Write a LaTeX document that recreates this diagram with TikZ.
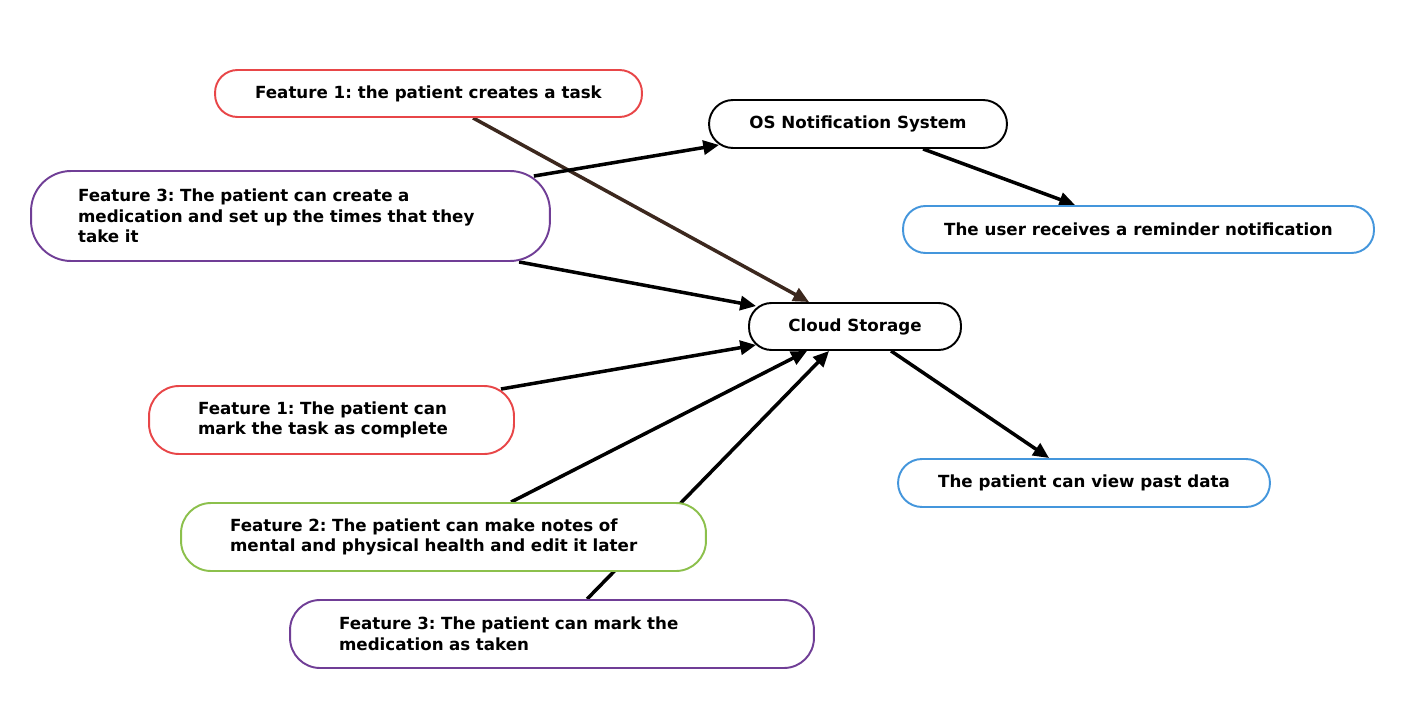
\documentclass[tikz,border=0pt]{standalone}
\usepackage{fontspec}
\setmainfont{DejaVu Sans}
\frenchspacing
\usetikzlibrary{arrows.meta,calc,backgrounds}

\definecolor{boxred}{RGB}{232,70,72}
\definecolor{boxpurple}{RGB}{112,62,150}
\definecolor{boxgreen}{RGB}{140,192,76}
\definecolor{boxblue}{RGB}{68,150,220}
\definecolor{linkbrown}{RGB}{60,40,30}

\begin{document}
\begin{tikzpicture}[x=0.02cm,y=-0.02cm,
    box/.style={draw,line width=1.1pt,fill=white,minimum height=0.94cm,rounded corners=0.45cm,
      font=\bfseries\fontsize{9.5}{11.7}\selectfont,align=center,inner sep=0pt},
    tallbox/.style={box,minimum height=1.36cm,rounded corners=0.6cm,align=left,inner xsep=0.98cm},
    link/.style={line width=2pt,-{Triangle[length=9pt,width=8pt]}}]
  \useasboundingbox (0,0) rectangle (1406,709);
      \node[box,draw=boxred,minimum width=8.54cm] (task) at (428.5,93.5) {Feature 1: the patient creates a task};
      \node[box,minimum width=5.96cm,minimum height=0.96cm,rounded corners=0.48cm] (os) at (858,124) {OS Notification System};
      \node[tallbox,draw=boxpurple,minimum height=1.8cm,rounded corners=0.8cm,inner xsep=0.94cm,text width=8.5cm] (create) at (290.5,216)
        {Feature 3: The patient can create a\\medication and set up the times that they\\take it};
      \node[box,draw=boxblue,minimum width=9.42cm] (user) at (1138.5,229.5) {The user receives a reminder notification};
      \node[box,minimum width=4.24cm] (cloud) at (855,326.5) {Cloud Storage};
      \node[tallbox,draw=boxred,text width=5.34cm] (complete) at (331.5,420)
        {Feature 1: The patient can\\mark the task as complete};
      \node[box,draw=boxblue,minimum width=7.44cm,minimum height=0.96cm,rounded corners=0.48cm] (past) at (1084,483) {The patient can view past data};
      \node[tallbox,draw=boxgreen,text width=8.54cm] (f2) at (443.5,537)
        {Feature 2: The patient can make notes of\\mental and physical health and edit it later};
      \node[tallbox,draw=boxpurple,text width=8.52cm] (taken) at (552,634)
        {Feature 3: The patient can mark the\\medication as taken};
    \begin{scope}[on background layer]
      \draw[link,draw=linkbrown,fill=linkbrown] ($(task.south west)+(259,0)$) -- ($(cloud.north west)+(61,0)$);
      \draw[link] ($(create.north east)+(-17,6)$) -- ($(os.south west)+(11,-4)$);
      \draw[link] ($(create.south west)+(489,0)$) -- ($(cloud.north west)+(8,4)$);
      \draw[link] ($(complete.north east)+(-14,4)$) -- ($(cloud.south west)+(8,-6)$);
      \draw[link] ($(f2.north west)+(331,0)$) -- ($(cloud.south west)+(59,0)$);
      \draw[link] ($(taken.north west)+(298,0)$) -- ($(cloud.south west)+(81,0)$);
      \draw[link] ($(os.south west)+(215,0)$) -- ($(user.north west)+(173,0)$);
      \draw[link] ($(cloud.south west)+(143,0)$) -- ($(past.north west)+(152,0)$);
    \end{scope}
\end{tikzpicture}
\end{document}
